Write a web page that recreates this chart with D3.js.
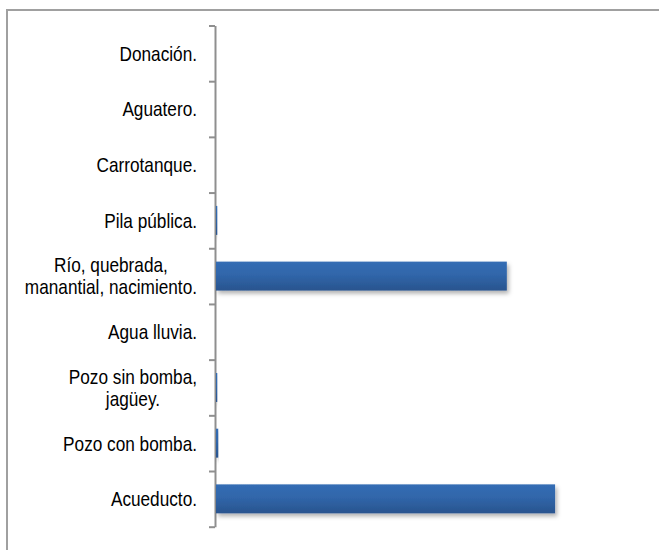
<!DOCTYPE html>
<html>
<head>
<meta charset="utf-8">
<script src="https://cdn.jsdelivr.net/npm/d3@7"></script>
<style>
  html, body { margin: 0; padding: 0; background: #fff; }
  svg { display: block; }
  .lbl { font-family: "Liberation Sans", Arial, sans-serif; font-size: 21px; fill: #000; }
</style>
</head>
<body>
<script>
// ---- data ----
const categories = [
  ["Donación."],
  ["Aguatero."],
  ["Carrotanque."],
  ["Pila pública."],
  ["Río, quebrada,", "manantial, nacimiento."],
  ["Agua lluvia."],
  ["Pozo sin bomba,", "jagüey."],
  ["Pozo con bomba."],
  ["Acueducto."]
];
const values = [0, 0, 0, 0.2, 45.8, 0, 0.2, 0.35, 53.4];
const xMax = 60;

// ---- layout ----
const W = 659, H = 550;
const axisX = 215, barX0 = 216, plotTop = 25.5, plotBottom = 526.7, plotRight = 597;
const labelRight = 197, sx = 0.82, lineH = 22;

const svg = d3.select("body").append("svg").attr("width", W).attr("height", H);

const defs = svg.append("defs");
const grad = defs.append("linearGradient").attr("id", "barGrad")
  .attr("x1", 0).attr("y1", 0).attr("x2", 0).attr("y2", 1);
grad.append("stop").attr("offset", "0%").attr("stop-color", "#346db4");
grad.append("stop").attr("offset", "45%").attr("stop-color", "#3066aa");
grad.append("stop").attr("offset", "100%").attr("stop-color", "#2a548e");
const filt = defs.append("filter").attr("id", "shadow")
  .attr("x", "-5%").attr("y", "-30%").attr("width", "115%").attr("height", "180%");
filt.append("feDropShadow").attr("dx", 2).attr("dy", 3).attr("stdDeviation", 2)
  .attr("flood-color", "#000").attr("flood-opacity", 0.3);

// outer frame (extends past the window on the right and bottom)
svg.append("rect").attr("x", 7).attr("y", 10).attr("width", 700).attr("height", 600)
  .attr("fill", "none").attr("stroke", "#a0a0a0").attr("stroke-width", 2);

const idx = d3.range(categories.length);
const y = d3.scaleBand().domain(idx).range([plotTop, plotBottom])
  .paddingInner(0.48).paddingOuter(0.24);
const x = d3.scaleLinear().domain([0, xMax]).range([barX0, plotRight]);

// category axis with ticks at band boundaries
const bScale = d3.scaleLinear().domain([0, categories.length]).range([plotTop, plotBottom]);
const axis = d3.axisLeft(bScale).tickValues(d3.range(categories.length + 1))
  .tickFormat("").tickSizeInner(6).tickSizeOuter(0);
const gAxis = svg.append("g").attr("transform", `translate(${axisX},0)`).call(axis);
gAxis.select(".domain").attr("stroke", "#8f8f8f").attr("stroke-width", 2);
gAxis.selectAll(".tick line").attr("stroke", "#8f8f8f").attr("stroke-width", 2);

// bars
svg.append("g").selectAll("rect").data(idx.filter(i => values[i] > 0)).join("rect")
  .attr("x", x(0))
  .attr("y", i => y(i))
  .attr("width", i => Math.max(1, x(values[i]) - x(0)))
  .attr("height", y.bandwidth())
  .attr("fill", "url(#barGrad)")
  .attr("filter", "url(#shadow)");

// labels (right-aligned block, lines centred within block)
const lg = svg.append("g").selectAll("g").data(idx).join("g")
  .attr("transform", i => `translate(${labelRight},${y(i) + y.bandwidth() / 2}) scale(${sx},1)`);
lg.each(function(i) {
  const g = d3.select(this);
  const lines = categories[i];
  const t = g.append("text").attr("class", "lbl");
  const spans = lines.map((s, k) => t.append("tspan")
    .attr("dy", k === 0 ? `${0.35 * 21 - (lines.length - 1) * lineH / 2}px` : lineH)
    .text(s));
  if (lines.length === 1) {
    t.attr("text-anchor", "end");
    spans[0].attr("x", 0);
  } else {
    const maxW = d3.max(spans, sp => sp.node().getComputedTextLength());
    t.attr("text-anchor", "middle");
    spans.forEach(sp => sp.attr("x", -maxW / 2));
  }
});
</script>
</body>
</html>
